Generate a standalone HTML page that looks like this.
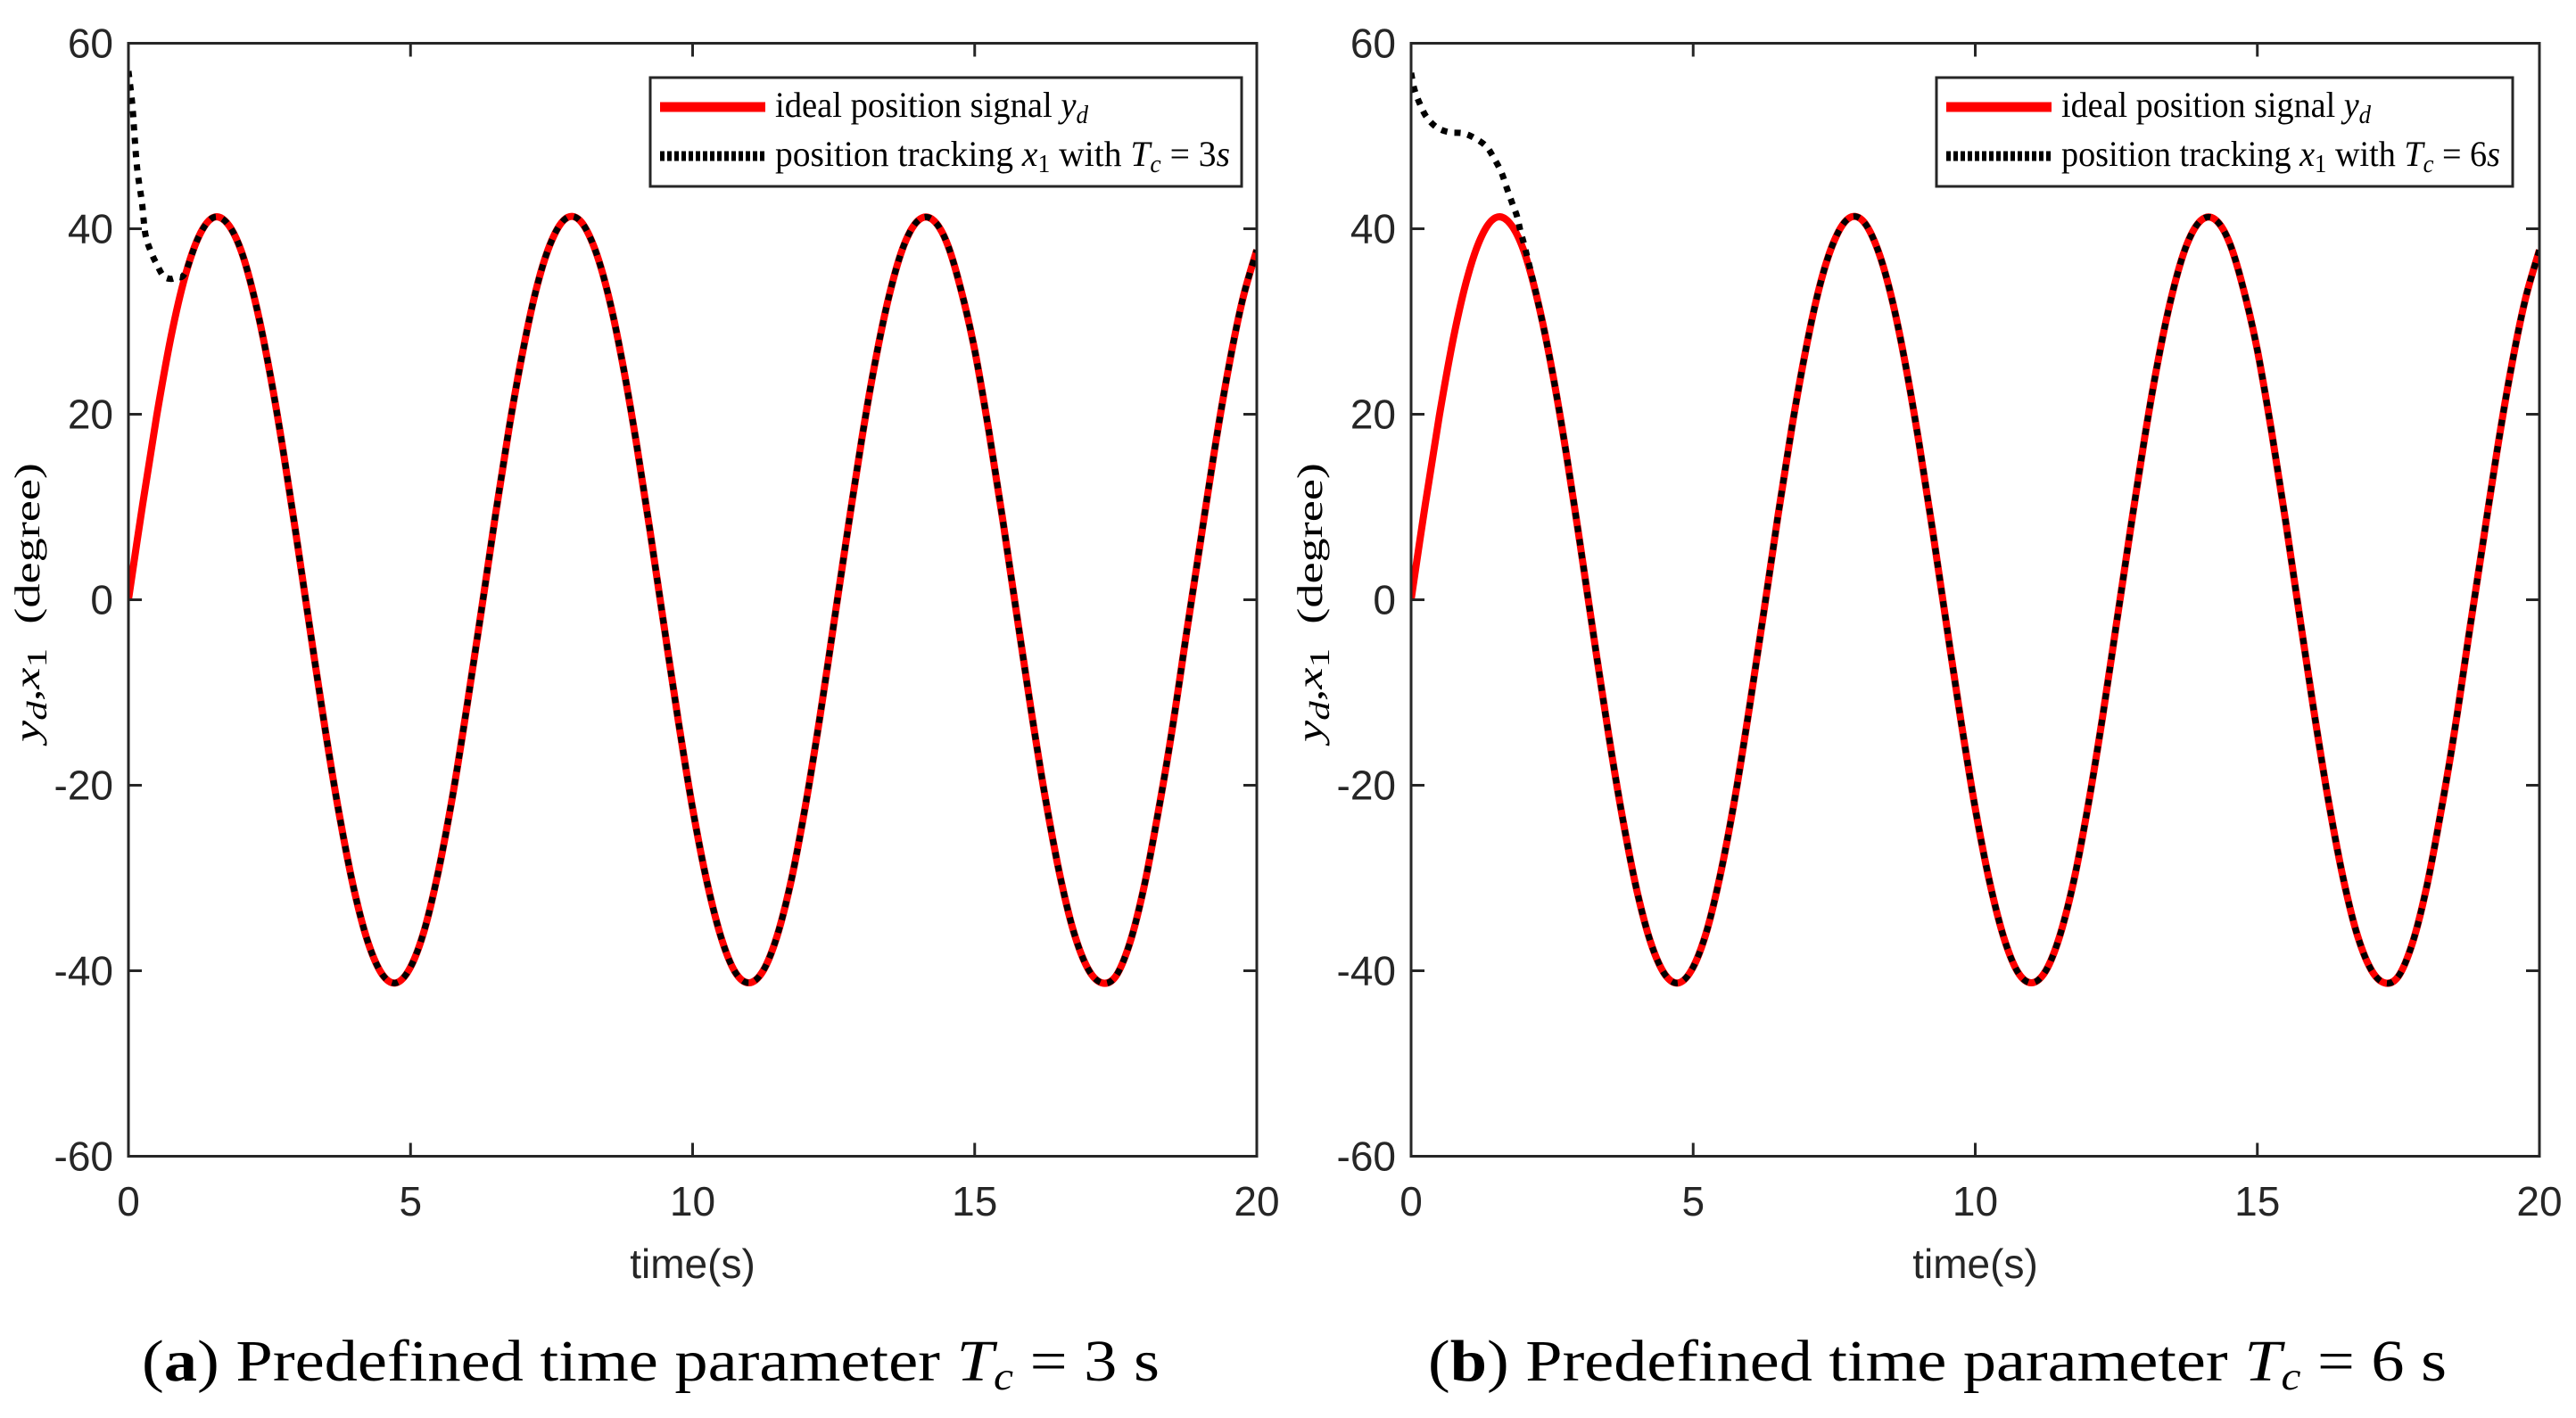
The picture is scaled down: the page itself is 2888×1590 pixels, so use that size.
<!DOCTYPE html>
<html><head><meta charset="utf-8"><style>
html,body{margin:0;padding:0;background:#fff;}
svg{display:block;}
.tick{font-family:"Liberation Sans",sans-serif;font-size:46px;fill:#262626;}
.lg{font-family:"Liberation Serif",serif;font-size:40px;fill:#000;}
.cap{font-family:"Liberation Serif",serif;font-size:66px;fill:#000;}
</style></head><body>
<svg id="root" width="2888" height="1590" viewBox="0 0 2888 1590" xmlns="http://www.w3.org/2000/svg">
<rect x="0" y="0" width="2888" height="1590" fill="#fff"/>
</svg>
<script>
// ---- data ----
const tStep = 0.25;
const ydValues = [0,10.2,19.8,28.2,34.8,39.2,41.2,40.6,37.6,32.1,
24.7,15.8,5.8,-4.5,-14.5,-23.6,-31.3,-37.0,-40.4,-41.3,
-39.6,-35.5,-29.1,-21.0,-11.5,-1.4,8.9,18.6,27.1,34.0,
38.7,41.1,40.9,38.1,33.0,25.8,17.0,7.2,-3.1,-13.2,
-22.5,-30.3,-36.3,-40.1,-41.3,-40.0,-36.2,-30.2,-22.2,-12.9,
-2.7,7.5,17.4,26.1,33.2,38.3,40.9,41.0,38.6,33.6,
26.9,18.2,8.5,-1.8,-11.9,-21.3,-29.4,-35.7,-39.7,-41.3,
-40.6,-37.0,-31.0,-23.0,-14.0,-3.8,6.2,16.1,25.0,32.4,37.7];
const transATimes = [0,0.07,0.11,0.16,0.24,0.3,0.4,0.5,0.62,0.75,0.86,1.0];
const transAValues = [57,53.3,49.8,46.2,42.8,39.4,37.5,36.2,34.9,34.6,34.8,35.2];
const transBTimes = [0,0.06,0.16,0.28,0.46,0.68,0.92,1.12,1.33,1.47,1.6,1.69,1.79,1.88,1.94,2.02];
const transBValues = [56.8,55,53.4,52,50.9,50.4,50.3,49.8,48.9,47.6,46.1,44.5,42.8,41.3,39.7,37.9];
const xTicks = [0,5,10,15,20];
const yTicks = [60,40,20,0,-20,-40,-60];
const panelLetters = ['a','b'];
const panelTc = ['3','6'];

const NS = 'http://www.w3.org/2000/svg';
const root = document.getElementById('root');
function el(tag, attrs, parent, text){
  const e = document.createElementNS(NS, tag);
  for (const k in attrs) e.setAttribute(k, attrs[k]);
  if (text !== undefined) e.textContent = text;
  (parent || root).appendChild(e);
  return e;
}
function smoothPath(pts){
  let d = 'M' + pts[0][0].toFixed(1) + ',' + pts[0][1].toFixed(1);
  for (let i = 0; i < pts.length - 1; i++){
    const p0 = pts[i-1] || pts[i], p1 = pts[i], p2 = pts[i+1], p3 = pts[i+2] || p2;
    const c1 = [p1[0] + (p2[0]-p0[0])/6, p1[1] + (p2[1]-p0[1])/6];
    const c2 = [p2[0] - (p3[0]-p1[0])/6, p2[1] - (p3[1]-p1[1])/6];
    d += 'C' + c1[0].toFixed(1)+','+c1[1].toFixed(1)+' '+c2[0].toFixed(1)+','+c2[1].toFixed(1)+' '+p2[0].toFixed(1)+','+p2[1].toFixed(1);
  }
  return d;
}

const panels = [
  {x0:144, x1:1409, legL:729, legR:1392, row1W:351, row2W:510, capX:159, capW:1141, trT:transATimes, trV:transAValues},
  {x0:1582, x1:2847, legL:2171, legR:2817, row1W:347, row2W:492, capX:1601, capW:1142, trT:transBTimes, trV:transBValues}
];
const yTop = 48.5, yBot = 1296.5;

panels.forEach((P, pi) => {
  const g = el('g', {}, root);
  
  
  const sx = t => P.x0 + (t/20)*(P.x1-P.x0);
  const sy = v => yTop + (60 - v)/120*(yBot-yTop);

  const cp = el('clipPath', {id:'clip'+pi}, g);
  el('rect', {x:P.x0, y:yTop, width:P.x1-P.x0, height:yBot-yTop}, cp);

  const ydPts = ydValues.map((v,i)=>[sx(i*tStep), sy(v)]);
  const red = el('path', {d:smoothPath(ydPts), fill:'none', stroke:'#ff0000', 'stroke-width':8, 'stroke-linejoin':'round', 'clip-path':'url(#clip'+pi+')'}, g);
  
  

  const lastT = P.trT[P.trT.length-1];
  const trPts = P.trT.map((t,i)=>[sx(t), sy(P.trV[i])]);
  ydValues.forEach((v,i)=>{ if (i*tStep > lastT + 0.1) trPts.push([sx(i*tStep), sy(v)]); });
  const blk = el('path', {d:smoothPath(trPts), fill:'none', stroke:'#000', 'stroke-width':7, 'stroke-dasharray':'7 8', 'clip-path':'url(#clip'+pi+')'}, g);
  
  

  const box = el('rect', {x:P.x0, y:yTop, width:P.x1-P.x0, height:yBot-yTop, fill:'none', stroke:'#262626', 'stroke-width':3}, g);
  
  

  xTicks.forEach(t => {
    const x = sx(t);
    if (t>0 && t<20){
      el('line', {x1:x, y1:yBot, x2:x, y2:yBot-15, stroke:'#262626', 'stroke-width':3}, g);
      el('line', {x1:x, y1:yTop, x2:x, y2:yTop+15, stroke:'#262626', 'stroke-width':3}, g);
    }
    const lb = el('text', {x:x, y:1363, 'text-anchor':'middle', class:'tick'}, g, String(t));
    
    
  });
  yTicks.forEach(v => {
    const y = sy(v);
    if (v>-60 && v<60){
      el('line', {x1:P.x0, y1:y, x2:P.x0+15, y2:y, stroke:'#262626', 'stroke-width':3}, g);
      el('line', {x1:P.x1, y1:y, x2:P.x1-15, y2:y, stroke:'#262626', 'stroke-width':3}, g);
    }
    const lb = el('text', {x:P.x0-17, y:y+16, 'text-anchor':'end', class:'tick'}, g, String(v));
    
    
  });

  const xt = el('text', {x:(P.x0+P.x1)/2, y:1433, 'text-anchor':'middle', class:'tick', 'font-size':'48'}, g, 'time(s)');
  
  

  const yx = P.x0 - 100, yc = 676;
  const yt = el('text', {x:yx - 156, y:yc, class:'lg', 'font-size':'48', textLength:'313', lengthAdjust:'spacingAndGlyphs', transform:'rotate(-90 '+yx+' '+yc+')'}, g);
  
  
  el('tspan', {'font-style':'italic'}, yt, 'y');
  el('tspan', {'font-style':'italic', 'font-size':'32', dy:'8'}, yt, 'd');
  el('tspan', {dy:'-8'}, yt, ',');
  el('tspan', {'font-style':'italic'}, yt, 'x');
  el('tspan', {'font-size':'32', dy:'8'}, yt, '1');
  el('tspan', {dy:'-8'}, yt, '\u00a0\u00a0(degree)');

  const lg = el('g', {}, g);
  
  
  el('rect', {x:P.legL, y:87, width:P.legR-P.legL, height:122, fill:'#fff', stroke:'#262626', 'stroke-width':3}, lg);
  el('line', {x1:P.legL+11, y1:120, x2:P.legL+129, y2:120, stroke:'#ff0000', 'stroke-width':11}, lg);
  el('line', {x1:P.legL+11, y1:175, x2:P.legL+129, y2:175, stroke:'#000', 'stroke-width':11, 'stroke-dasharray':'5 3'}, lg);
  const l1 = el('text', {x:P.legL+140, y:131, class:'lg', 'font-size':'42', textLength:P.row1W, lengthAdjust:'spacingAndGlyphs'}, lg);
  
  
  el('tspan', {}, l1, 'ideal position signal ');
  el('tspan', {'font-style':'italic'}, l1, 'y');
  el('tspan', {'font-style':'italic','font-size':'28', dy:'7'}, l1, 'd');
  const l2 = el('text', {x:P.legL+140, y:186, class:'lg', 'font-size':'42', textLength:P.row2W, lengthAdjust:'spacingAndGlyphs'}, lg);
  
  
  el('tspan', {}, l2, 'position tracking ');
  el('tspan', {'font-style':'italic'}, l2, 'x');
  el('tspan', {'font-size':'28', dy:'7'}, l2, '1');
  el('tspan', {dy:'-7'}, l2, ' with ');
  el('tspan', {'font-style':'italic'}, l2, 'T');
  el('tspan', {'font-style':'italic','font-size':'28', dy:'7'}, l2, 'c');
  el('tspan', {dy:'-7'}, l2, ' = ' + panelTc[pi]);
  el('tspan', {'font-style':'italic'}, l2, 's');

  const cap = el('text', {x:P.capX, y:1548, class:'cap', textLength:P.capW, lengthAdjust:'spacingAndGlyphs'}, g);
  
  
  el('tspan', {}, cap, '(');
  el('tspan', {'font-weight':'bold'}, cap, panelLetters[pi]);
  el('tspan', {}, cap, ') Predefined time parameter ');
  el('tspan', {'font-style':'italic'}, cap, 'T');
  el('tspan', {'font-style':'italic','font-size':'44', dy:'10'}, cap, 'c');
  el('tspan', {dy:'-10'}, cap, ' = ' + panelTc[pi] + ' s');
});
</script>
</body></html>
